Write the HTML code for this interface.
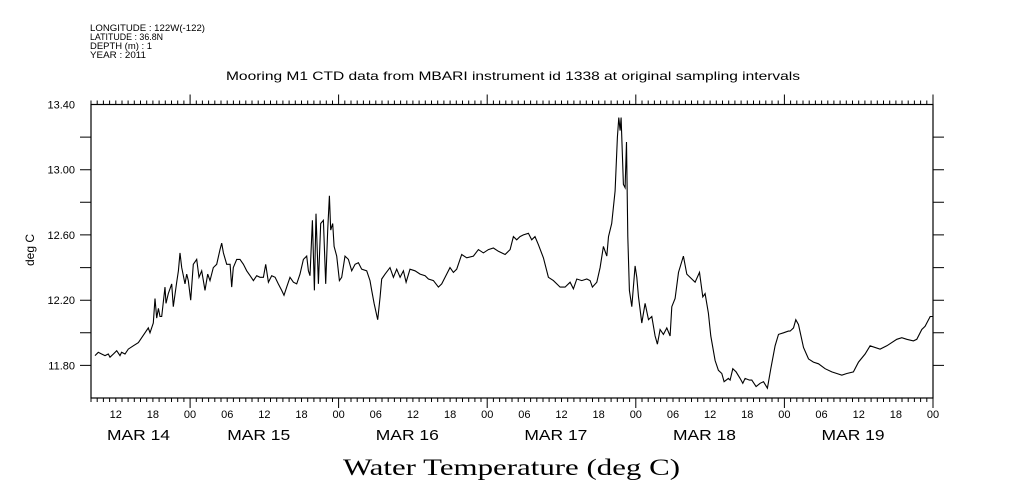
<!DOCTYPE html>
<html><head><meta charset="utf-8"><style>
html,body{margin:0;padding:0;background:#fff;}
svg{display:block;}
text{font-family:"Liberation Sans",sans-serif;fill:#000;}
</style></head><body>
<svg id="chart" width="1009" height="504" viewBox="0 0 1009 504" xmlns="http://www.w3.org/2000/svg">
<g font-size="9.5">
<text x="90" y="31" textLength="115" lengthAdjust="spacingAndGlyphs">LONGITUDE : 122W(-122)</text>
<text x="90" y="40" textLength="73" lengthAdjust="spacingAndGlyphs">LATITUDE : 36.8N</text>
<text x="90" y="49" textLength="62" lengthAdjust="spacingAndGlyphs">DEPTH (m) : 1</text>
<text x="90" y="58" textLength="56" lengthAdjust="spacingAndGlyphs">YEAR : 2011</text>
</g>
<text x="226" y="80" textLength="574" lengthAdjust="spacingAndGlyphs" font-size="12">Mooring M1 CTD data from MBARI instrument id 1338 at original sampling intervals</text>
<text x="0" y="0" transform="translate(34,250) rotate(-90)" text-anchor="middle" font-size="12">deg C</text>
<text x="343" y="475" textLength="337" lengthAdjust="spacingAndGlyphs" font-size="23" style="font-family:'Liberation Serif',serif">Water Temperature (deg C)</text>
<g id="axes"></g>
<g id="plot"></g>
</svg>
<script>
const hours = [0.65,1.18,1.72,2.26,2.80,3.07,3.61,4.15,4.68,4.95,5.49,6.03,6.84,7.65,8.19,8.72,9.26,9.53,10.07,10.34,10.61,10.88,11.15,11.42,11.95,12.12,12.49,13.03,13.30,13.84,14.11,14.38,14.65,15.19,15.46,15.72,16.10,16.53,17.07,17.45,17.88,18.42,18.85,19.22,19.76,20.30,20.84,21.11,21.38,21.92,22.46,22.73,22.99,23.53,24.07,24.61,25.15,25.69,26.23,26.76,27.30,27.84,28.22,28.65,29.19,29.73,30.26,30.80,31.18,31.61,32.15,32.69,33.23,33.76,34.30,34.84,35.11,35.38,35.76,36.08,36.35,36.73,37.10,37.53,37.91,38.23,38.50,38.72,39.04,39.26,39.69,40.12,40.50,41.03,41.57,42.11,42.65,43.19,43.73,44.53,45.07,45.34,45.72,46.31,
46.69,46.96,47.50,48.30,48.84,49.38,49.92,50.46,50.89,51.53,52.34,53.15,53.96,54.50,55.30,56.11,56.65,57.19,57.99,58.53,59.07,59.88,60.69,61.76,62.57,63.38,64.19,64.99,65.80,66.88,67.69,68.22,68.76,69.30,69.84,70.65,71.18,71.72,72.27,73.07,73.88,74.69,75.77,76.58,77.38,77.92,78.46,79.27,80.08,80.61,80.99,81.69,82.23,82.77,83.31,83.58,84.11,84.65,85.03,85.25,85.46,85.62,86.00,86.27,86.49,86.70,86.97,87.35,87.89,88.16,88.43,88.96,89.50,90.04,90.58,91.12,91.49,91.92,92.46,93.00,93.54,
93.81,94.35,94.89,95.69,96.23,97.04,97.58,98.28,98.81,99.19,99.73,100.11,100.81,101.34,101.88,102.26,102.96,103.23,103.66,104.20,104.85,105.28,105.65,106.35,106.73,107.43,108.08,108.62,109.26,109.80,110.50,111.04,111.85,112.65,112.92,113.46,113.84,114.27,115.08,115.89,116.69,117.50,118.58,119.66,120.46,121.27,122.08,123.15,123.96,125.04,125.84,127.46,128.54,130.15,130.96,131.77,132.84,133.38,134.19,134.73,135.54,136.0];
const temps = [11.86,11.88,11.87,11.86,11.87,11.85,11.87,11.89,11.86,11.88,11.87,11.90,11.92,11.94,11.97,12.00,12.03,12.00,12.06,12.21,12.09,12.15,12.10,12.10,12.28,12.18,12.24,12.30,12.16,12.31,12.38,12.49,12.40,12.30,12.36,12.32,12.20,12.42,12.45,12.34,12.38,12.26,12.36,12.32,12.40,12.42,12.51,12.55,12.49,12.42,12.42,12.28,12.40,12.45,12.45,12.42,12.38,12.35,12.32,12.35,12.34,12.34,12.42,12.31,12.35,12.34,12.30,12.26,12.23,12.28,12.34,12.31,12.30,12.36,12.45,12.47,12.38,12.35,12.69,12.26,12.73,12.30,12.67,12.69,12.30,12.63,12.84,12.63,12.67,12.53,12.47,12.32,12.34,12.47,12.45,12.38,12.42,12.43,12.39,12.38,12.32,12.26,12.18,12.08,
12.22,12.33,12.36,12.40,12.34,12.39,12.34,12.38,12.31,12.39,12.38,12.36,12.35,12.33,12.32,12.28,12.30,12.34,12.40,12.37,12.39,12.48,12.46,12.47,12.51,12.49,12.51,12.52,12.50,12.48,12.51,12.59,12.57,12.59,12.60,12.61,12.57,12.59,12.54,12.46,12.34,12.32,12.28,12.28,12.31,12.27,12.33,12.32,12.33,12.32,12.28,12.31,12.40,12.53,12.47,12.59,12.67,12.87,13.20,13.32,13.24,13.32,12.91,12.89,13.17,12.59,12.26,12.16,12.41,12.34,12.22,12.06,12.18,12.08,12.10,11.98,11.93,12.02,11.99,12.03,11.98,
12.16,12.21,12.37,12.47,12.36,12.33,12.31,12.37,12.22,12.24,12.12,11.98,11.83,11.77,11.75,11.70,11.72,11.71,11.78,11.76,11.72,11.69,11.72,11.71,11.71,11.67,11.69,11.70,11.66,11.78,11.92,11.99,12.00,12.01,12.01,12.03,12.08,12.05,11.91,11.84,11.82,11.81,11.78,11.76,11.75,11.74,11.75,11.76,11.82,11.87,11.92,11.90,11.92,11.96,11.97,11.96,11.95,11.96,12.02,12.04,12.10,12.10];
const yTickLabels = ["11.80","12.20","12.60","13.00","13.40"];
const hourLabels = ["12","18","00","06","12","18","00","06","12","18","00","06","12","18","00","06","12","18","00","06","12","18","00"];
const dayLabels = ["MAR 14","MAR 15","MAR 16","MAR 17","MAR 18","MAR 19"];

const NS="http://www.w3.org/2000/svg";
const X0=91,X1=933,Y0=398,Y1=104.5,H0=0,H1=136,V0=11.6,V1=13.4;
const xs=h=>X0+(h-H0)*(X1-X0)/(H1-H0);
const ys=v=>Y0-(v-V0)*(Y0-Y1)/(V1-V0);
const axes=document.getElementById('axes'),plot=document.getElementById('plot');
function mk(tag,attrs,parent){const e=document.createElementNS(NS,tag);for(const k in attrs)e.setAttribute(k,attrs[k]);parent.appendChild(e);return e;}
const frame=mk('rect',{x:X0,y:Y1,width:X1-X0,height:Y0-Y1,fill:'none',stroke:'#000','stroke-width':1.2},axes);


let d='';
for(let h=H0;h<=H1;h++){const x=xs(h).toFixed(1);const major=(h+8)%24===0;
 d+=`M${x},${Y1}V${Y1-(major?10:4)}M${x},${Y0}V${Y0+(major?10:4)}`;}
for(let v=11.8;v<13.39;v+=0.2){const y=ys(v).toFixed(1);d+=`M${X0},${y}H${X0-11}M${X1},${y}H${X1+11}`;}
const ticks=mk('path',{d:d,stroke:'#000','stroke-width':1,fill:'none'},axes);


yTickLabels.forEach((lab)=>{const t=mk('text',{x:75,y:ys(parseFloat(lab))+4,'text-anchor':'end','font-size':11},axes);t.textContent=lab;
 
 });
hourLabels.forEach((lab,i)=>{const h=4+6*i;const t=mk('text',{x:xs(h),y:418,'text-anchor':'middle','font-size':11},axes);t.textContent=lab;
 
 });
dayLabels.forEach((lab,i)=>{const x=i===0?107:xs(16+24*(i-1)+6);const t=mk('text',{x:x,y:440,'font-size':15,textLength:63,lengthAdjust:'spacingAndGlyphs'},axes);t.textContent=lab;
 
 });
const pts=hours.map((h,i)=>xs(h).toFixed(1)+','+ys(temps[i]).toFixed(1)).join(' ');
const line=mk('polyline',{points:pts,fill:'none',stroke:'#000','stroke-width':1.1},plot);


</script>
</body></html>
